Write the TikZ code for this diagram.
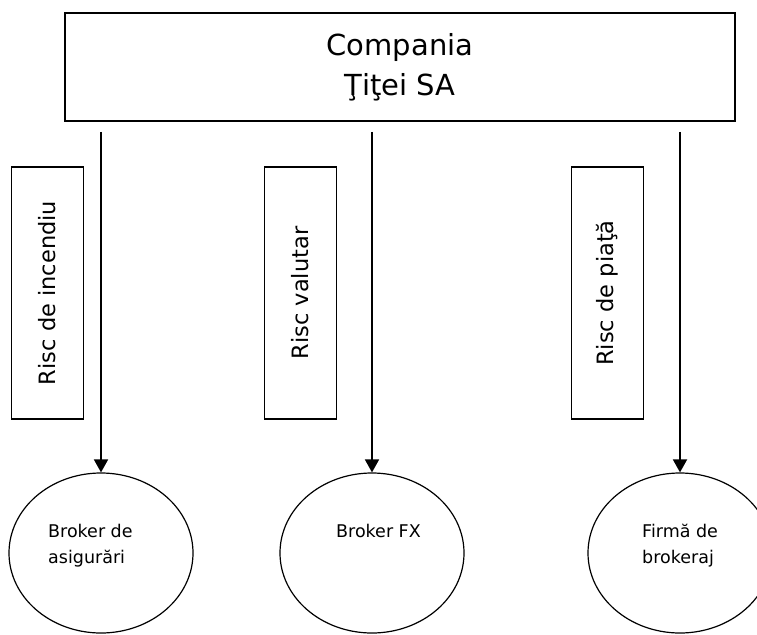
\documentclass[tikz,border=0pt]{standalone}
\usepackage{fontspec}
\setmainfont{DejaVu Sans}
\usepackage{tikz}
\usetikzlibrary{arrows, shapes, shapes.geometric, positioning, arrows.meta, calc}
\tikzstyle{company} = [draw, line width=1.5pt, minimum width=670pt, minimum height=108pt, align=center, font=\fontsize{29}{40}\selectfont]
\tikzstyle{risk} = [draw, line width=1.2pt, rotate=90, minimum width=252pt, minimum height=72pt, font=\fontsize{22.5}{26}\selectfont]
\tikzstyle{broker} = [draw, ellipse, line width=1.2pt, minimum width=184pt, minimum height=160pt, inner sep=0pt]
\tikzstyle{brokertext} = [align=left, anchor=north west, inner sep=0pt, font=\fontsize{17.5}{26}\selectfont]
\tikzstyle{arrow} = [line width=1.8pt, -{Triangle[length=13pt,width=14pt]}, shorten <=10pt]

\begin{document}
\begin{tikzpicture}[x=1pt, y=-1pt]
    \useasboundingbox (0,0) rectangle (757,634);
    \clip (0,0) rectangle (757,634);

    % the company
    \node[company] (company) at (400,67) {Compania\\Ţiţei SA};

    % risks
    \node[risk] (fire) at (47.5,293) {Risc de incendiu};
    \node[risk] (fx) at (300.5,293) {Risc valutar};
    \node[risk] (market) at (607.5,293) {Risc de piaţă};

    % brokers
    \node[broker] (insurer) at (101,553) {};
    \node[broker] (fxbroker) at (372,553) {};
    \node[broker] (brokerage) at (680,553) {};
    \node[brokertext] (insurertext) at (48,524) {Broker de\\asigurări};
    \node[brokertext] (fxbrokertext) at (336,524) {Broker FX};
    \node[brokertext] (brokeragetext) at (642,524) {Firmă de\\brokeraj};

    \draw[arrow] (company.south -| insurer.north) -- (insurer.north);
    \draw[arrow] (company.south -| fxbroker.north) -- (fxbroker.north);
    \draw[arrow] (company.south -| brokerage.north) -- (brokerage.north);
\end{tikzpicture}
\end{document}
